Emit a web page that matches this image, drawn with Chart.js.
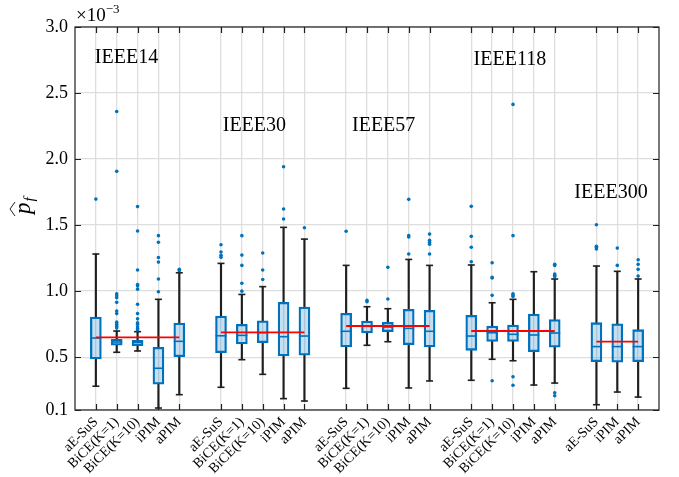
<!DOCTYPE html>
<html>
<head>
<meta charset="utf-8">
<script src="https://cdn.jsdelivr.net/npm/chart.js@4.4.1/dist/chart.umd.min.js"></script>
<style>
  html, body { margin: 0; padding: 0; background: #fff; }
  #wrap { width: 679px; height: 477px; }
</style>
</head>
<body>
<div id="wrap"><canvas id="myChart"></canvas></div>
<script>
// test systems and the methods run on each of them
var groups = ['IEEE14', 'IEEE30', 'IEEE57', 'IEEE118', 'IEEE300'];
var methods = [
  ['aE-SuS', 'BiCE(K=1)', 'BiCE(K=10)', 'iPIM', 'aPIM'],
  ['aE-SuS', 'BiCE(K=1)', 'BiCE(K=10)', 'iPIM', 'aPIM'],
  ['aE-SuS', 'BiCE(K=1)', 'BiCE(K=10)', 'iPIM', 'aPIM'],
  ['aE-SuS', 'BiCE(K=1)', 'BiCE(K=10)', 'iPIM', 'aPIM'],
  ['aE-SuS', 'iPIM', 'aPIM']
];

// box statistics (x 1e-3), one entry per box, in plotting order
var whiskerLow = [0.28, 0.537, 0.547, 0.115, 0.216,
                  0.272, 0.481, 0.37, 0.186, 0.168,
                  0.264, 0.59, 0.617, 0.267, 0.32,
                  0.325, 0.484, 0.473, 0.289, 0.304,
                  0.14, 0.236, 0.198];
var q1 = [0.486, 0.59, 0.587, 0.295, 0.503,
          0.534, 0.6, 0.61, 0.509, 0.516,
          0.577, 0.683, 0.693, 0.594, 0.577,
          0.552, 0.62, 0.62, 0.541, 0.575,
          0.466, 0.463, 0.466];
var median = [0.645, 0.615, 0.612, 0.416, 0.62,
              0.662, 0.665, 0.685, 0.655, 0.66,
              0.696, 0.734, 0.728, 0.718, 0.696,
              0.66, 0.685, 0.673, 0.668, 0.683,
              0.58, 0.58, 0.58];
var q3 = [0.804, 0.635, 0.628, 0.575, 0.759,
          0.812, 0.749, 0.776, 0.915, 0.88,
          0.832, 0.774, 0.764, 0.862, 0.855,
          0.817, 0.736, 0.743, 0.827, 0.784,
          0.761, 0.753, 0.708];
var whiskerHigh = [1.281, 0.698, 0.693, 0.938, 1.139,
                   1.21, 0.975, 1.034, 1.483, 1.394,
                   1.195, 0.882, 0.867, 1.24, 1.195,
                   1.198, 0.912, 0.938, 1.147, 1.092,
                   1.19, 1.15, 1.092];
var outliers = [
  [1.697],
  [2.36, 1.907, 0.98, 0.965, 0.95, 0.915, 0.85, 0.83, 0.765, 0.75, 0.735, 0.72],
  [1.64, 1.455, 1.16, 1.05, 1.04, 1.015, 0.9, 0.83, 0.79, 0.76, 0.75, 0.73, 0.718, 0.706],
  [1.42, 1.37, 1.255, 1.22, 1.092, 0.995],
  [1.165, 1.155],
  [1.351, 1.296, 1.271, 1.256],
  [1.42, 1.273, 1.195, 1.06, 1.0],
  [1.289, 1.16, 1.088],
  [1.942, 1.622, 1.546],
  [1.48],
  [1.453],
  [0.93, 0.92],
  [1.18, 0.94],
  [1.695, 1.42, 1.41, 1.281],
  [1.432, 1.385, 1.37, 1.355, 1.281],
  [1.642, 1.415, 1.332, 1.223],
  [1.215, 1.105, 1.1, 0.968, 0.322],
  [2.414, 1.42, 0.98, 0.97, 0.96, 0.352, 0.287],
  [],
  [1.203, 1.195, 1.13, 1.12, 1.11, 0.231, 0.208],
  [1.503, 1.34, 1.33, 1.32],
  [1.326, 1.195],
  [1.238, 1.203, 1.165, 1.114]
];
// mean over all methods of each system (red line)
var groupMean = [0.65, 0.688, 0.736, 0.698, 0.617];

var yTicks = [0.1, 0.5, 1.0, 1.5, 2.0, 2.5, 3.0];

// where the system names are written, in data units
var nameX = [2.47, 8.6, 14.8, 20.85, 25.7];
var nameY = [2.765, 2.25, 2.25, 2.75, 1.745];

// box positions: each system takes its boxes plus one empty slot
var positions = [], tickLabels = {};
groups.forEach(function(g, gi) {
  methods[gi].forEach(function(m, mi) {
    var p = gi * 6 + mi + 1;
    positions.push(p);
    tickLabels[p] = m;
  });
});

var boxData = [], upData = [], lowData = [], medData = [], capData = [], outData = [], meanData = [];
positions.forEach(function(p, i) {
  boxData.push({x: p, y: [q1[i], q3[i]]});
  upData.push({x: p, y: [q3[i], whiskerHigh[i]]});
  lowData.push({x: p, y: [whiskerLow[i], q1[i]]});
  medData.push({x: p, y: median[i]});
  capData.push({x: p, y: whiskerLow[i]});
  capData.push({x: p, y: whiskerHigh[i]});
  outliers[i].forEach(function(v) { outData.push({x: p, y: v}); });
});
var start = 0;
groups.forEach(function(g, gi) {
  var n = methods[gi].length;
  meanData.push({x: positions[start], y: groupMean[gi]});
  meanData.push({x: positions[start + n - 1], y: groupMean[gi]});
  meanData.push({x: positions[start + n - 1] + 0.5, y: null});
  start += n;
});

var SERIF = '"Liberation Serif", "DejaVu Serif", serif';
var BLUE = '#0072BD';
var DARK = '#1f1f1f';

var decor = {
  id: 'decor',
  afterDatasetsDraw: function(chart) {
    var ctx = chart.ctx, a = chart.chartArea;
    var xs = chart.scales.x, ys = chart.scales.y;
    ctx.save();
    ctx.strokeStyle = DARK;
    ctx.lineWidth = 1.2;
    ctx.strokeRect(a.left, a.top, a.right - a.left, a.bottom - a.top);
    ctx.beginPath();
    xs.ticks.forEach(function(t) {
      var px = Math.round(xs.getPixelForValue(t.value)) + 0.5;
      ctx.moveTo(px, a.bottom); ctx.lineTo(px, a.bottom - 6);
      ctx.moveTo(px, a.top); ctx.lineTo(px, a.top + 6);
    });
    ys.ticks.forEach(function(t) {
      var py = Math.round(ys.getPixelForValue(t.value)) + 0.5;
      ctx.moveTo(a.left, py); ctx.lineTo(a.left + 6, py);
      ctx.moveTo(a.right, py); ctx.lineTo(a.right - 6, py);
    });
    ctx.stroke();

    // system names
    ctx.fillStyle = '#000';
    ctx.font = '20px ' + SERIF;
    ctx.textAlign = 'center';
    ctx.textBaseline = 'middle';
    groups.forEach(function(g, i) {
      ctx.fillText(g, xs.getPixelForValue(nameX[i]), ys.getPixelForValue(nameY[i]));
    });

    // exponent above the y axis
    ctx.textAlign = 'left';
    ctx.textBaseline = 'alphabetic';
    ctx.font = '19px ' + SERIF;
    ctx.fillText('\u00d710', a.left + 1, a.top - 6);
    var w = ctx.measureText('\u00d710').width;
    ctx.font = '13px ' + SERIF;
    ctx.fillText('\u22123', a.left + 1 + w, a.top - 14);

    // y label: p hat, subscript f
    ctx.translate(24, 205);
    ctx.rotate(-Math.PI / 2);
    ctx.font = 'italic 23px ' + SERIF;
    ctx.fillText('p', -9, 6);
    var pw = ctx.measureText('p').width;
    ctx.font = 'italic 15px ' + SERIF;
    ctx.fillText('f', -9 + pw + 1, 10);
    ctx.beginPath();
    ctx.lineWidth = 1;
    ctx.moveTo(-11, -9); ctx.lineTo(-4, -14); ctx.lineTo(3, -9);
    ctx.stroke();
    ctx.restore();
  }
};

var ctx = document.getElementById('myChart').getContext('2d');
var chart = new Chart(ctx, {
  type: 'bar',
  data: {
    datasets: [
      {type: 'line', data: meanData, borderColor: '#ff0000', borderWidth: 1.8,
       pointRadius: 0, spanGaps: false, order: 0},
      {type: 'scatter', data: outData, pointStyle: 'circle', pointRadius: 1.8,
       backgroundColor: BLUE, borderColor: BLUE, borderWidth: 0, order: 1},
      {type: 'scatter', data: capData, pointStyle: 'line', pointRadius: 3.5,
       borderColor: DARK, borderWidth: 1.6, order: 2},
      {type: 'scatter', data: medData, pointStyle: 'line', pointRadius: 5.5,
       borderColor: BLUE, borderWidth: 1.6, order: 3},
      {data: boxData, grouped: false, barThickness: 11, backgroundColor: 'rgba(0,114,189,0.22)',
       borderColor: BLUE, borderWidth: 1.6, borderSkipped: false, order: 4},
      {data: upData, grouped: false, barThickness: 1.5, backgroundColor: DARK,
       borderWidth: 0, order: 5},
      {data: lowData, grouped: false, barThickness: 1.5, backgroundColor: DARK,
       borderWidth: 0, order: 5}
    ]
  },
  options: {
    responsive: true,
    maintainAspectRatio: false,
    animation: false,
    events: [],
    layout: {padding: {top: 27, right: 20, left: 0, bottom: 0}},
    plugins: {legend: {display: false}, tooltip: {enabled: false}},
    scales: {
      x: {
        type: 'linear', min: 0, max: 28, offset: false,
        afterBuildTicks: function(scale) {
          scale.ticks = positions.map(function(p) { return {value: p}; });
        },
        afterFit: function(scale) { scale.height = 67; },
        ticks: {
          autoSkip: false, minRotation: 45, maxRotation: 45, padding: 4,
          color: '#000', font: {family: SERIF, size: 14},
          callback: function(v) { return tickLabels[v] || ''; }
        },
        grid: {color: '#dedede', lineWidth: 1.3, drawTicks: false, offset: false},
        border: {display: false}
      },
      y: {
        type: 'linear', min: 0.1, max: 3.0, stacked: false,
        afterBuildTicks: function(scale) {
          scale.ticks = yTicks.map(function(v) { return {value: v}; });
        },
        afterFit: function(scale) { scale.width = 75; },
        ticks: {
          padding: 7, color: '#000', font: {family: SERIF, size: 18},
          callback: function(v) { return v.toFixed(1); }
        },
        grid: {color: '#dedede', lineWidth: 1.3, drawTicks: false},
        border: {display: false}
      }
    }
  },
  plugins: [decor]
});
</script>
</body>
</html>
